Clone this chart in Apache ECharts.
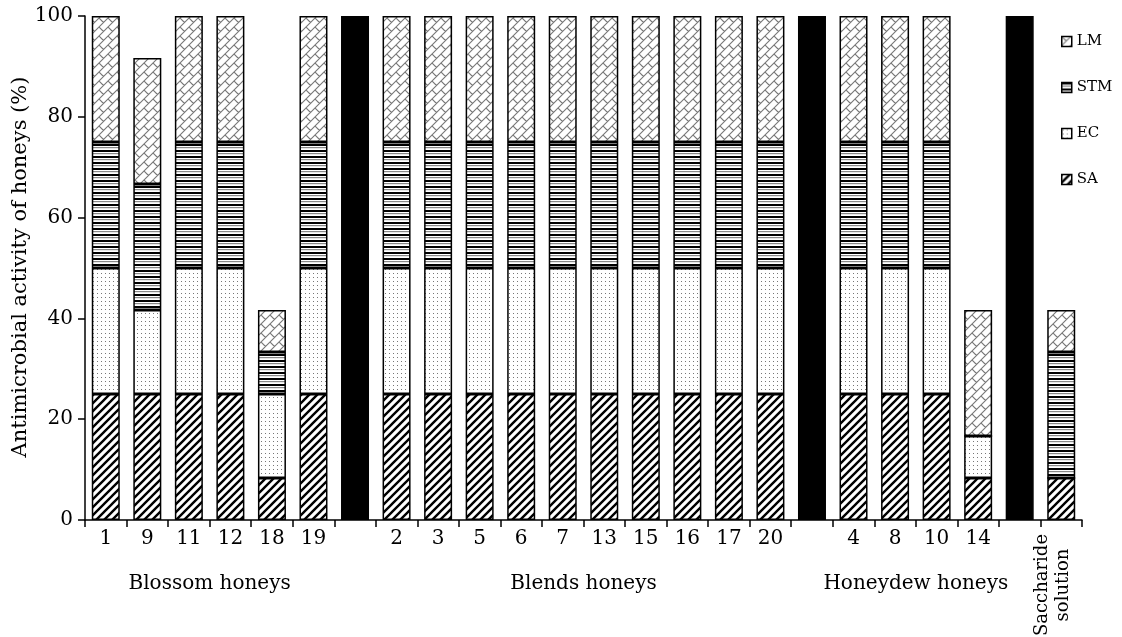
<!DOCTYPE html>
<html>
<head>
<meta charset="utf-8">
<script src="https://cdn.jsdelivr.net/npm/echarts@6/dist/echarts.min.js"></script>
<style>html,body{margin:0;padding:0;background:#fff}#c{width:1122px;height:637px}</style>
</head>
<body>
<div id="c"></div>
<script>
const categories = ['1','9','11','12','18','19','','2','3','5','6','7','13','15','16','17','20','','4','8','10','14','','Saccharide solution'];
const groupLabels = ['Blossom honeys','Blends honeys','Honeydew honeys'];
const groupRanges = [[0,5],[7,16],[18,21]];
const yTicks = [0,20,40,60,80,100];
const yTitle = 'Antimicrobial activity of honeys (%)';
const SA  = [25,25,25,25,8.33,25,null,25,25,25,25,25,25,25,25,25,25,null,25,25,25,8.33,null,8.33];
const EC  = [25,16.67,25,25,16.67,25,null,25,25,25,25,25,25,25,25,25,25,null,25,25,25,8.33,null,0];
const STM = [25,25,25,25,8.33,25,null,25,25,25,25,25,25,25,25,25,25,null,25,25,25,0,null,25];
const LM  = [25,25,25,25,8.33,25,null,25,25,25,25,25,25,25,25,25,25,null,25,25,25,25,null,8.33];
const control = [null,null,null,null,null,null,100,null,null,null,null,null,null,null,null,null,null,100,null,null,null,null,100,null];

function tile(w,h,draw){const c=document.createElement('canvas');c.width=w;c.height=h;const g=c.getContext('2d');g.fillStyle='#fff';g.fillRect(0,0,w,h);draw(g,w,h);return {image:c,repeat:'repeat'};}
const patSA = tile(8,8,(g,w,h)=>{g.strokeStyle='#000';g.lineWidth=2.4;g.beginPath();
  g.moveTo(-1,h+1);g.lineTo(w+1,-1);g.moveTo(-1-w,h+1);g.lineTo(1,-1);g.moveTo(w-1,h+1);g.lineTo(2*w+1,-1);g.stroke();});
const patEC = tile(4,4,(g)=>{g.fillStyle='#777';g.fillRect(1,1,1,1);});
const patSTM = tile(6,6,(g)=>{g.fillStyle='#000';g.fillRect(0,0,6,2);g.fillStyle='#888';g.fillRect(0,3,6,1.2);});
const patLM = tile(9,9,(g,w,h)=>{g.strokeStyle='#777';g.lineWidth=1.1;g.beginPath();
  g.moveTo(0,h);g.lineTo(w,0);g.moveTo(-w/2,h/2);g.lineTo(w/2,-h/2);g.moveTo(w/2,h*1.5);g.lineTo(w*1.5,h/2);
  g.moveTo(0,0);g.lineTo(w/2,h/2);g.stroke();});

const font = 'DejaVu Serif';
function bar(name,data,pat){return {name,type:'bar',stack:'a',data,barWidth:28,
  itemStyle:{color:pat,borderColor:'#000',borderWidth:1.5},emphasis:{disabled:true}};}

const chart = echarts.init(document.getElementById('c'));
chart.setOption({
  animation:false,
  textStyle:{fontFamily:font},
  grid:{left:85,right:40,top:16,bottom:117},
  legend:{orient:'vertical',left:1056,top:29,itemGap:31,itemWidth:10,itemHeight:10,icon:'rect',itemTextGap:4,
    data:['LM','STM','EC','SA'],textStyle:{fontFamily:font,fontSize:15,color:'#000'},
    itemStyle:{borderColor:'#000',borderWidth:1.5},selectedMode:false},
  xAxis:{type:'category',data:categories,
    axisLine:{lineStyle:{color:'#000',width:1.5}},
    axisTick:{show:true,length:7,lineStyle:{color:'#000',width:1.5}},
    axisLabel:{color:'#000',fontSize:20,fontFamily:font,margin:9,interval:0,
      formatter:(v,i)=> i===categories.length-1 ? '' : v}},
  yAxis:{type:'value',min:0,max:100,interval:20,
    axisLine:{show:true,lineStyle:{color:'#000',width:1.5}},
    axisTick:{show:true,length:7,lineStyle:{color:'#000',width:1.5}},
    axisLabel:{color:'#000',fontSize:20,fontFamily:font,margin:12,formatter:v=>yTicks.includes(v)?String(v):''},
    splitLine:{show:false}},
  series:[bar('SA',SA,patSA),bar('EC',EC,patEC),bar('STM',STM,patSTM),bar('LM',LM,patLM),
    {name:'control',type:'bar',stack:'a',data:control,barWidth:28,itemStyle:{color:'#000',borderColor:'#000',borderWidth:1.5},emphasis:{disabled:true}}]
});
const px = i => chart.convertToPixel({xAxisIndex:0}, i);
const ts = (t,size)=>({text:t,font:size+'px "'+font+'"',fill:'#000',align:'center',verticalAlign:'middle',textAlign:'center',textVerticalAlign:'middle'});
const graphics = groupLabels.map((t,k)=>({type:'text',x:(px(groupRanges[k][0])+px(groupRanges[k][1]))/2,y:584,style:ts(t,20)}));
graphics.push({type:'text',x:px(categories.length-1)-8,y:585,rotation:Math.PI/2,
  style:Object.assign(ts('Saccharide\nsolution',18),{lineHeight:21})});
graphics.push({type:'text',x:21,y:267,rotation:Math.PI/2,style:ts(yTitle,21)});
chart.setOption({graphic:graphics});
</script>
</body>
</html>
